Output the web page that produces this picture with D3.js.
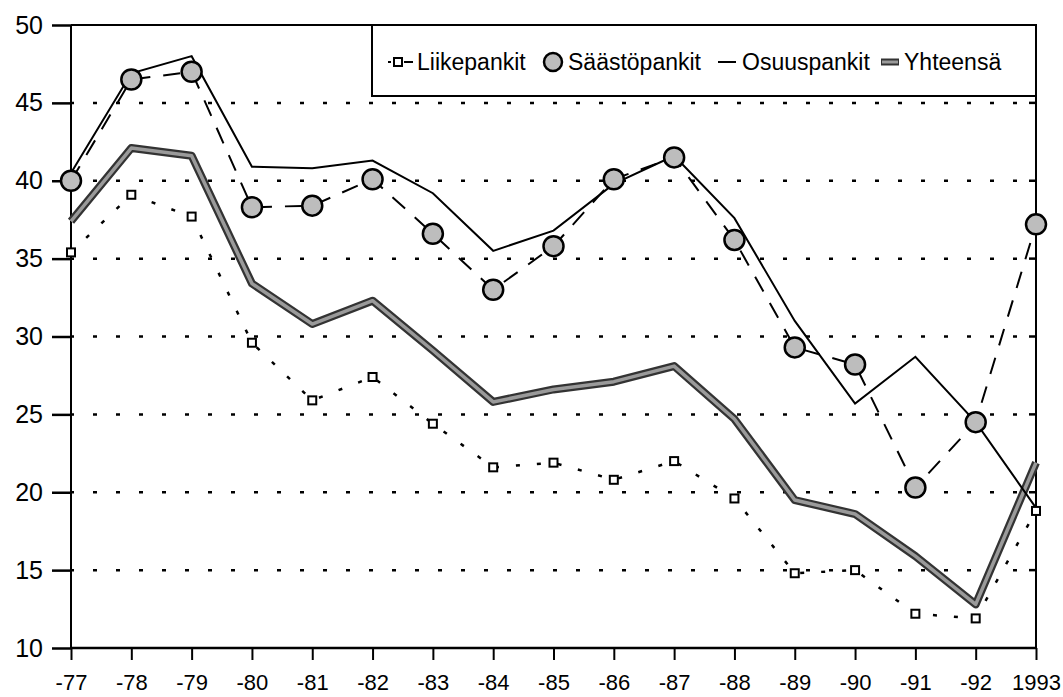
<!DOCTYPE html>
<html>
<head>
<meta charset="utf-8">
<script src="https://cdn.jsdelivr.net/npm/d3@7"></script>
<style>
  body { margin: 0; background: #fff; }
  text { font-family: "Liberation Sans", Arial, sans-serif; fill: #000; }
</style>
</head>
<body>
<div id="wrapper"></div>
<script>
// data
const years = ['-77','-78','-79','-80','-81','-82','-83','-84','-85','-86','-87','-88','-89','-90','-91','-92','1993']
const liikepankit = [35.4, 39.1, 37.7, 29.6, 25.9, 27.4, 24.4, 21.6, 21.9, 20.8, 22.0, 19.6, 14.8, 15.0, 12.2, 11.9, 18.8]
const saastopankit = [40.0, 46.5, 47.0, 38.3, 38.4, 40.1, 36.6, 33.0, 35.8, 40.1, 41.5, 36.2, 29.3, 28.2, 20.3, 24.5, 37.2]
const osuuspankit = [40.5, 46.9, 48.0, 40.9, 40.8, 41.3, 39.2, 35.5, 36.8, 39.8, 41.6, 37.6, 31.0, 25.7, 28.7, 24.5, 19.0]
const yhteensa = [37.4, 42.1, 41.6, 33.4, 30.8, 32.3, 29.1, 25.8, 26.6, 27.1, 28.1, 24.7, 19.5, 18.6, 15.9, 12.8, 21.9]
const yTicks = [10, 15, 20, 25, 30, 35, 40, 45, 50]
const gridValues = [15, 20, 25, 30, 35, 40, 45]

const dimensions = {
  width: 1063,
  height: 697,
  margins: { top: 25, right: 27, bottom: 49, left: 71 }
}
dimensions.boundedWidth = dimensions.width - dimensions.margins.left - dimensions.margins.right
dimensions.boundedHeight = dimensions.height - dimensions.margins.top - dimensions.margins.bottom

const wrapper = d3.select('#wrapper').append('svg')
  .attr('width', dimensions.width)
  .attr('height', dimensions.height)

const bounds = wrapper.append('g')
  .attr('transform', `translate(${dimensions.margins.left},${dimensions.margins.top})`)

// scales
const xScale = d3.scalePoint()
  .domain(years)
  .range([0, dimensions.boundedWidth])

const yScale = d3.scaleLinear()
  .domain([10, 50])
  .range([dimensions.boundedHeight, 0])

// gridlines
bounds.append('g').selectAll('line')
  .data(gridValues)
  .enter().append('line')
  .attr('x1', 0)
  .attr('x2', dimensions.boundedWidth)
  .attr('y1', d => yScale(d))
  .attr('y2', d => yScale(d))
  .attr('stroke', '#000')
  .attr('stroke-width', 2.5)
  .attr('stroke-dasharray', '4,19')
  .attr('stroke-dashoffset', -22)

// right side small inner ticks
bounds.append('g').selectAll('line')
  .data(gridValues)
  .enter().append('line')
  .attr('x1', dimensions.boundedWidth - 7)
  .attr('x2', dimensions.boundedWidth)
  .attr('y1', d => yScale(d))
  .attr('y2', d => yScale(d))
  .attr('stroke', '#000')
  .attr('stroke-width', 2.5)

// frame (top + right)
bounds.append('path')
  .attr('d', `M0,0H${dimensions.boundedWidth}V${dimensions.boundedHeight}`)
  .attr('fill', 'none')
  .attr('stroke', '#000')
  .attr('stroke-width', 2)

// axes
const yAxis = bounds.append('g')
  .call(d3.axisLeft(yScale).tickValues(yTicks).tickSize(19).tickPadding(9).tickFormat(d3.format('d')))
yAxis.select('.domain').attr('stroke-width', 2).attr('d', `M0,0V${dimensions.boundedHeight}`)
yAxis.selectAll('.tick line').attr('stroke-width', 2.5)
yAxis.selectAll('.tick text')
  .style('font-size', '25px')
  .style('font-family', '"Liberation Sans", Arial, sans-serif')

const xAxis = bounds.append('g')
  .attr('transform', `translate(0,${dimensions.boundedHeight})`)
  .call(d3.axisBottom(xScale).tickSize(12).tickPadding(14))
xAxis.select('.domain').attr('stroke-width', 2.5).attr('d', `M0,0H${dimensions.boundedWidth}`)
xAxis.selectAll('.tick line').attr('stroke-width', 2)
xAxis.selectAll('.tick text')
  .style('font-size', '22px')
  .style('font-family', '"Liberation Sans", Arial, sans-serif')

// lines
const lineFor = values => d3.line()
  .x((d, i) => xScale(years[i]))
  .y(d => yScale(d))(values)

// Yhteensä: thick stippled grey line
bounds.append('path')
  .attr('d', lineFor(yhteensa))
  .attr('fill', 'none')
  .attr('stroke', '#333')
  .attr('stroke-width', 8)
  .attr('stroke-linejoin', 'round')
bounds.append('path')
  .attr('d', lineFor(yhteensa))
  .attr('fill', 'none')
  .attr('stroke', '#9a9a9a')
  .attr('stroke-width', 3.5)
  .attr('stroke-linejoin', 'round')

// Liikepankit: dotted
bounds.append('path')
  .attr('d', lineFor(liikepankit))
  .attr('fill', 'none')
  .attr('stroke', '#000')
  .attr('stroke-width', 2.5)
  .attr('stroke-dasharray', '4,17')

// Osuuspankit: solid thin
bounds.append('path')
  .attr('d', lineFor(osuuspankit))
  .attr('fill', 'none')
  .attr('stroke', '#000')
  .attr('stroke-width', 2)

// Säästöpankit: dashed
bounds.append('path')
  .attr('d', lineFor(saastopankit))
  .attr('fill', 'none')
  .attr('stroke', '#000')
  .attr('stroke-width', 2)
  .attr('stroke-dasharray', '17,13')

// markers
bounds.append('g').selectAll('rect')
  .data(liikepankit)
  .enter().append('rect')
  .attr('x', (d, i) => xScale(years[i]) - 4)
  .attr('y', d => yScale(d) - 4)
  .attr('width', 8)
  .attr('height', 8)
  .attr('fill', '#fff')
  .attr('stroke', '#000')
  .attr('stroke-width', 2)

bounds.append('g').selectAll('circle')
  .data(saastopankit)
  .enter().append('circle')
  .attr('cx', (d, i) => xScale(years[i]))
  .attr('cy', d => yScale(d))
  .attr('r', 10)
  .attr('fill', '#bdbdbd')
  .attr('stroke', '#000')
  .attr('stroke-width', 2.5)

// legend
const legend = wrapper.append('g')
legend.append('rect')
  .attr('x', 372)
  .attr('y', 25)
  .attr('width', 1036 - 372)
  .attr('height', 71)
  .attr('fill', '#fff')
  .attr('stroke', '#000')
  .attr('stroke-width', 2)

const ly = 62
// Liikepankit symbol
legend.append('line').attr('x1', 388).attr('x2', 391).attr('y1', ly).attr('y2', ly)
  .attr('stroke', '#000').attr('stroke-width', 2)
legend.append('line').attr('x1', 404).attr('x2', 413).attr('y1', ly).attr('y2', ly)
  .attr('stroke', '#000').attr('stroke-width', 2)
legend.append('rect').attr('x', 394).attr('y', ly - 4).attr('width', 8).attr('height', 8)
  .attr('fill', '#fff').attr('stroke', '#000').attr('stroke-width', 2)
legend.append('text').attr('x', 417).attr('y', 70).style('font-size', '23px').text('Liikepankit')

// Säästöpankit symbol
legend.append('circle').attr('cx', 553).attr('cy', ly).attr('r', 9)
  .attr('fill', '#bdbdbd').attr('stroke', '#000').attr('stroke-width', 2.5)
legend.append('text').attr('x', 568).attr('y', 70).style('font-size', '23px').text('Säästöpankit')

// Osuuspankit symbol
legend.append('line').attr('x1', 718).attr('x2', 736).attr('y1', ly).attr('y2', ly)
  .attr('stroke', '#000').attr('stroke-width', 2)
legend.append('text').attr('x', 742).attr('y', 70).style('font-size', '23px').text('Osuuspankit')

// Yhteensä symbol
legend.append('line').attr('x1', 881).attr('x2', 899).attr('y1', ly).attr('y2', ly)
  .attr('stroke', '#333').attr('stroke-width', 7)
legend.append('line').attr('x1', 882).attr('x2', 898).attr('y1', ly).attr('y2', ly)
  .attr('stroke', '#9a9a9a').attr('stroke-width', 3)
legend.append('text').attr('x', 904).attr('y', 70).style('font-size', '23px').text('Yhteensä')
</script>
</body>
</html>
